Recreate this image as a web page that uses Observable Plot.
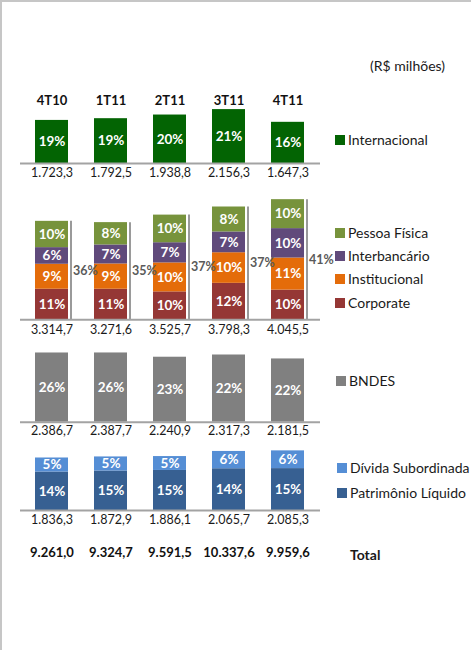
<!DOCTYPE html>
<html>
<head>
<meta charset="utf-8">
<script src="https://cdn.jsdelivr.net/npm/d3@7"></script>
<script src="https://cdn.jsdelivr.net/npm/@observablehq/plot@0.6"></script>
<style>
  html, body { margin: 0; padding: 0; background: #fff; }
  #page { position: relative; width: 471px; height: 650px; overflow: hidden; font-family: Lato, sans-serif; color: #1a1a1a; }
  #page svg { position: absolute; left: 0; }
  .edge { position: absolute; background: #c6c6c6; }
  .lg { position: absolute; font-size: 14px; line-height: 16px; white-space: nowrap; display: flex; align-items: center; }
  .sw { width: 10px; height: 10px; margin-right: 3px; flex: none; }
</style>
</head>
<body>
<div id="page">
  <div class="edge" style="left:0;top:0;width:471px;height:2px"></div>
  <div class="edge" style="left:0;top:0;width:2px;height:650px"></div>
</div>
<script>
// ---------- data ----------
const quarters = ["4T10", "1T11", "2T11", "3T11", "4T11"];

const intlValues = [1723.3, 1792.5, 1938.8, 2156.3, 1647.3];
const intlPct = ["19%", "19%", "20%", "21%", "16%"];

const corpValues = [1030, 1030, 940, 1228, 1000];
const instValues = [840, 850, 975, 1030, 1080];
const interValues = [560, 640, 680, 700, 990];
const pfValues = [885, 752, 930, 840, 975];
const corpPct = ["11%", "11%", "10%", "12%", "10%"];
const instPct = ["9%", "9%", "10%", "10%", "11%"];
const interPct = ["6%", "7%", "7%", "7%", "10%"];
const pfPct = ["10%", "8%", "10%", "8%", "10%"];
const domesticTotals = [3314.7, 3271.6, 3525.7, 3798.3, 4045.5];
const domesticShare = ["36%", "35%", "37%", "37%", "41%"];

const bndesValues = [2386.7, 2387.7, 2240.9, 2317.3, 2181.5];
const bndesPct = ["26%", "26%", "23%", "22%", "22%"];

const plValues = [1345, 1380, 1400, 1460, 1465];
const dsValues = [491, 493, 486, 605, 620];
const plPct = ["14%", "15%", "15%", "14%", "15%"];
const dsPct = ["5%", "5%", "5%", "6%", "6%"];
const capitalTotals = [1836.3, 1872.9, 1886.1, 2065.7, 2085.3];

const grandTotals = [9261.0, 9324.7, 9591.5, 10337.6, 9959.6];

const seriesNames = ["Internacional", "Corporate", "Institucional", "Interbancário", "Pessoa Física", "BNDES", "Patrimônio Líquido", "Dívida Subordinada"];
const seriesColors = ["#036403", "#953735", "#e46c0a", "#604a7b", "#77933c", "#808080", "#376092", "#558ed5"];

// ---------- helpers ----------
const locale = d3.formatLocale({decimal: ",", thousands: ".", grouping: [3], currency: ["R$", ""]});
const fmt = locale.format(",.1f");

const rows = (series, values, pcts) => quarters.map((q, i) => ({q, series, v: values[i], pct: pcts[i]}));

const page = document.getElementById("page");

function panel({top, height, marginBottom, pxPerUnit, marks}) {
  const plotH = height - marginBottom;
  const svg = Plot.plot({
    width: 471,
    height,
    marginTop: 0,
    marginLeft: 20,
    marginRight: 151,
    marginBottom,
    x: {type: "band", domain: quarters, paddingInner: 0.433, paddingOuter: 0.2167, axis: null},
    y: {domain: [0, plotH / pxPerUnit], axis: null},
    color: {domain: seriesNames, range: seriesColors},
    style: {fontFamily: "Lato, sans-serif", fontSize: "13px", overflow: "visible", background: "transparent"},
    marks
  });
  svg.style.top = top + "px";
  page.appendChild(svg);
}

const baseline = Plot.ruleY([0], {stroke: "#a3a3a3", strokeWidth: 2});
const valueText = (values, dy, extra = {}) =>
  Plot.text(quarters, {x: d => d, text: (d, i) => fmt(values[i]), frameAnchor: "bottom", dy, fill: "#1a1a1a", fontSize: 12.5, ...extra});
const inBar = {fill: "white", fontWeight: "bold", fontSize: 13.5};

// ---------- panel 1: Internacional ----------
const intlRows = rows("Internacional", intlValues, intlPct);
panel({
  top: 80, height: 110, marginBottom: 27, pxPerUnit: 0.025,
  marks: [
    Plot.text(quarters, {x: d => d, text: d => d, frameAnchor: "top", dy: 15, fontWeight: "bold", fontSize: 13, fill: "#111"}),
    Plot.barY(intlRows, {x: "q", y: "v", fill: "series"}),
    Plot.text(intlRows, Plot.stackY({x: "q", y: "v", text: "pct", ...inBar})),
    baseline,
    valueText(intlValues, 13)
  ]
});

// ---------- panel 2: domestic segments ----------
const domRows = [
  ...rows("Corporate", corpValues, corpPct),
  ...rows("Institucional", instValues, instPct),
  ...rows("Interbancário", interValues, interPct),
  ...rows("Pessoa Física", pfValues, pfPct)
];
const domTotalRows = quarters.map((q, i) => ({q, total: domesticTotals[i], share: domesticShare[i]}));
panel({
  top: 190, height: 150, marginBottom: 20.7, pxPerUnit: 0.0297,
  marks: [
    Plot.barY(domRows, {x: "q", y: "v", fill: "series"}),
    Plot.text(domRows, Plot.stackY({x: "q", y: "v", text: "pct", ...inBar})),
    Plot.ruleX(domTotalRows, {x: "q", y1: 0, y2: "total", dx: 19, stroke: "#9a9a9a", strokeWidth: 2}),
    Plot.text(domTotalRows, {x: "q", y: d => d.total / 2, text: "share", dx: 21, textAnchor: "start", fill: "#5a5a5a", fontWeight: "bold", fontSize: 12.5}),
    baseline,
    valueText(domesticTotals, 14)
  ]
});

// ---------- panel 3: BNDES ----------
const bndesRows = rows("BNDES", bndesValues, bndesPct);
panel({
  top: 340, height: 105, marginBottom: 23.3, pxPerUnit: 0.029,
  marks: [
    Plot.barY(bndesRows, {x: "q", y: "v", fill: "series"}),
    Plot.text(bndesRows, Plot.stackY({x: "q", y: "v", text: "pct", ...inBar})),
    baseline,
    valueText(bndesValues, 12.5)
  ]
});

// ---------- panel 4: capital + totals ----------
const capRows = [
  ...rows("Patrimônio Líquido", plValues, plPct),
  ...rows("Dívida Subordinada", dsValues, dsPct)
];
panel({
  top: 445, height: 135, marginBottom: 70, pxPerUnit: 0.0286,
  marks: [
    Plot.barY(capRows, {x: "q", y: "v", fill: "series"}),
    Plot.text(capRows, Plot.stackY({x: "q", y: "v", text: "pct", ...inBar})),
    baseline,
    valueText(capitalTotals, 13.5),
    valueText(grandTotals, 46, {fontWeight: "bold", fontSize: 13, fill: "#111"})
  ]
});

// ---------- legend & notes (HTML) ----------
const legendItems = [
  {name: "Internacional", y: 139.5, x: 335},
  {name: "Pessoa Física", y: 232.7, x: 335},
  {name: "Interbancário", y: 255.7, x: 335},
  {name: "Institucional", y: 279.3, x: 335},
  {name: "Corporate", y: 302.7, x: 335},
  {name: "BNDES", y: 381, x: 336},
  {name: "Dívida Subordinada", y: 468, x: 337},
  {name: "Patrimônio Líquido", y: 492.7, x: 337}
];
for (const it of legendItems) {
  const el = document.createElement("div");
  el.className = "lg";
  el.style.left = it.x + "px";
  el.style.top = (it.y - 8) + "px";
  const sw = document.createElement("span");
  sw.className = "sw";
  sw.style.background = seriesColors[seriesNames.indexOf(it.name)];
  const tx = document.createElement("span");
  tx.textContent = it.name;
  el.appendChild(sw);
  el.appendChild(tx);
  page.appendChild(el);
}
function note(text, x, y, bold) {
  const el = document.createElement("div");
  el.className = "lg";
  el.style.left = x + "px";
  el.style.top = (y - 8) + "px";
  if (bold) el.style.fontWeight = "bold";
  el.textContent = text;
  page.appendChild(el);
}
note("(R$ milhões)", 370, 66, false);
note("Total", 350, 555, true);
</script>
</body>
</html>
